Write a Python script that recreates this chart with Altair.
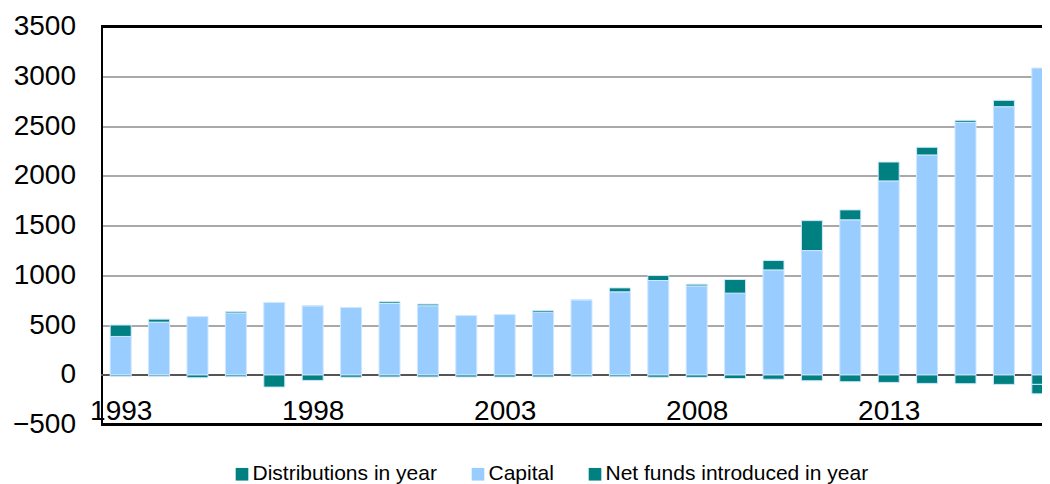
import altair as alt
import pandas as pd

years = list(range(1993, 2018))
capital = [385, 529, 585, 619, 726, 693, 676, 716, 693, 595, 605, 629, 753,
           833, 947, 893, 820, 1054, 1248, 1557, 1948, 2209, 2537, 2694, 3082]
net_funds = [115, 30, 0, 13, 0, 0, 0, 17, 17, 0, 0, 17, 0,
             40, 50, 17, 137, 94, 301, 100, 190, 77, 20, 64, -95]
distributions = [-15, -15, -30, -20, -124, -57, -25, -22, -22, -23, -23, -22, -20,
                 -20, -25, -26, -38, -45, -60, -70, -77, -87, -90, -97, -97]

series_names = ["Distributions in year", "Capital", "Net funds introduced in year"]
series_colors = ["#008080", "#99CCFF", "#008080"]
x_tick_years = [1993, 1998, 2003, 2008, 2013]
y_ticks = list(range(-500, 3501, 500))

rows = []
for i, yr in enumerate(years):
    rows.append({"year": yr, "series": series_names[0], "value": distributions[i], "ord": 0})
    rows.append({"year": yr, "series": series_names[1], "value": capital[i], "ord": 1})
    rows.append({"year": yr, "series": series_names[2], "value": net_funds[i], "ord": 2})
df = pd.DataFrame(rows)

FONT = "Liberation Sans"
W = 940.5
H = 398
PX_PER_YEAR = 38.4

bars = alt.Chart(df).mark_bar(size=21, clip=True, stroke="#cfe7ff", strokeWidth=1).encode(
    x=alt.X("year:Q",
            scale=alt.Scale(domain=[1992.5, 1992.5 + W / PX_PER_YEAR], nice=False,
                            zero=False, padding=0),
            axis=alt.Axis(values=x_tick_years, format="d", title=None, grid=False,
                          domain=False, ticks=False, labelFontSize=28, labelFont=FONT,
                          labelColor="black", labelPadding=22, offset=-49.5,
                          labelFlush=False, labelOverlap=False)),
    y=alt.Y("value:Q", stack="zero",
            scale=alt.Scale(domain=[-500, 3500], nice=False, zero=False, padding=0),
            axis=alt.Axis(values=y_ticks, format="d", title=None, grid=True,
                          gridColor="#8c8c8c", gridWidth=1.5, domain=True,
                          domainColor="black", domainWidth=2,
                          ticks=False, labelFontSize=28, labelFont=FONT, labelColor="black",
                          labelPadding=26, labelOverlap=False)),
    color=alt.Color("series:N",
                    scale=alt.Scale(domain=series_names, range=series_colors),
                    legend=alt.Legend(title=None, orient="none", direction="horizontal",
                                      legendX=130, legendY=437, symbolType="square",
                                      symbolSize=160, symbolStrokeWidth=0,
                                      labelFontSize=21, labelFont=FONT, labelColor="black",
                                      labelOffset=0, columnPadding=30, padding=0,
                                      labelLimit=0)),
    order=alt.Order("ord:Q"),
)

zero_line = alt.Chart(df).mark_rule(color="#555555", strokeWidth=1.5).encode(y=alt.datum(0))
top_line = alt.Chart(df).mark_rule(color="black", strokeWidth=2).encode(y=alt.datum(3500))
bottom_line = alt.Chart(df).mark_rule(color="black", strokeWidth=2).encode(y=alt.datum(-500))

chart = alt.layer(zero_line, bars, top_line, bottom_line).properties(
    width=W, height=H,
    autosize=alt.AutoSizeParams(type="none"),
    padding={"left": 93.5, "top": 18.5, "right": 0, "bottom": 59.5},
).configure_view(stroke=None).configure(background="white")

chart.save("out.html", embed_options={"renderer": "svg", "actions": False})
